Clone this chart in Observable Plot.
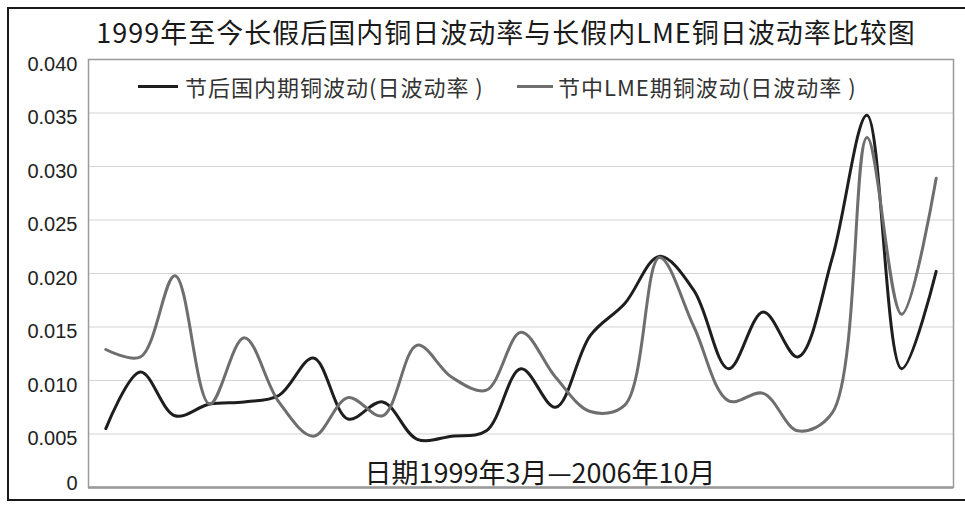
<!DOCTYPE html>
<html>
<head>
<meta charset="utf-8">
<script src="https://cdn.jsdelivr.net/npm/d3@7"></script>
<script src="https://cdn.jsdelivr.net/npm/@observablehq/plot@0.6"></script>
<style>
  html, body { margin: 0; padding: 0; background: #fff; }
  #wrap { position: relative; width: 965px; height: 507px; overflow: hidden; background: #fff; }
  #frame { position: absolute; left: 7px; top: 7px; width: 980px; height: 494px;
           border-left: 2px solid #1a1a1a; border-top: 2px solid #1a1a1a; border-bottom: 2px solid #1a1a1a;
           box-sizing: border-box; pointer-events: none; }
  #title { position: absolute; left: 0; top: 14px; width: 1012px; text-align: center;
           font-family: "Noto Sans CJK SC", sans-serif; font-size: 27px; letter-spacing: 1px;
           color: #1a1a1a; line-height: 36px; }
  #chart { position: absolute; left: 0; top: 52px; }
  .leg { position: absolute; top: 72px; font-family: "Noto Sans CJK SC", sans-serif; font-size: 22px;
         letter-spacing: 1px; color: #333; line-height: 28px; white-space: nowrap; }
  .sw { position: absolute; height: 3px; top: 85px; }
  #xlab { position: absolute; left: 340px; width: 400px; top: 455px; text-align: center;
          font-family: "Noto Sans CJK SC", sans-serif; font-size: 27px; color: #1a1a1a; line-height: 34px; }
</style>
</head>
<body>
<div id="wrap">
  <div id="title">1999年至今长假后国内铜日波动率与长假内LME铜日波动率比较图</div>
  <div id="chart"></div>
  <div class="sw" style="left:138px;width:40px;background:#1e1e1e;"></div>
  <div class="leg" style="left:185px;">节后国内期铜波动(日波动率 )</div>
  <div class="sw" style="left:517px;width:36px;background:#6e6e6e;"></div>
  <div class="leg" style="left:558px;">节中LME期铜波动(日波动率 )</div>
  <div id="xlab">日期1999年3月—2006年10月</div>
  <div id="frame"></div>
</div>
<script>
// 25 long-holiday observations, 1999-03 to 2006-10
const periods = d3.range(25);
const domesticAfter = [0.0055, 0.0108, 0.0067, 0.0078, 0.0080, 0.0086, 0.0121, 0.0064, 0.0080, 0.0045,
                       0.0048, 0.0053, 0.0111, 0.0075, 0.0142, 0.0172, 0.0216, 0.0184, 0.0111, 0.0164,
                       0.0122, 0.0215, 0.0348, 0.0111, 0.0202];
const lmeDuring   = [0.0129, 0.0122, 0.0198, 0.0078, 0.0140, 0.0080, 0.0048, 0.0084, 0.0067, 0.0133,
                       0.0103, 0.0091, 0.0145, 0.0103, 0.0071, 0.0077, 0.0215, 0.0150, 0.0081, 0.0088,
                       0.0053, 0.0070, 0.0327, 0.0162, 0.0289];
const yTicks = [0.005, 0.010, 0.015, 0.020, 0.025, 0.030, 0.035, 0.040];
const zeroTick = [0];
const gridTicks = [0.005, 0.010, 0.015, 0.020, 0.025, 0.030, 0.035];

const seriesA = periods.map((p, i) => ({p, v: domesticAfter[i]}));
const seriesB = periods.map((p, i) => ({p, v: lmeDuring[i]}));

const chart = Plot.plot({
  width: 965,
  height: 455,
  marginTop: 7,
  marginBottom: 20,
  marginLeft: 88,
  marginRight: 12,
  style: {background: "transparent", fontFamily: "'Liberation Sans', Arial, sans-serif"},
  x: {domain: [-0.5, 24.5], axis: null},
  y: {domain: [0, 0.040], axis: null, label: null},
  marks: [
    Plot.gridY(gridTicks, {stroke: "#d4d4d4", strokeOpacity: 1, strokeWidth: 1.2}),
    Plot.frame({stroke: "#9a9a9a", strokeWidth: 1.5}),
    Plot.ruleY([0], {stroke: "#9a9a9a", strokeWidth: 2.5}),
    Plot.axisY(yTicks, {
      tickSize: 0, tickPadding: 11, fontSize: 20, fill: "#222", dy: 5, label: null,
      tickFormat: d => d3.format(".3f")(d)
    }),
    Plot.axisY(zeroTick, {
      tickSize: 0, tickPadding: 11, fontSize: 20, fill: "#222", dy: -4, label: null,
      tickFormat: () => "0"
    }),
    Plot.line(seriesA, {x: "p", y: "v", curve: "catmull-rom", stroke: "#1e1e1e", strokeWidth: 3}),
    Plot.line(seriesB, {x: "p", y: "v", curve: "catmull-rom", stroke: "#6e6e6e", strokeWidth: 3})
  ]
});
document.getElementById("chart").appendChild(chart);
</script>
</body>
</html>
